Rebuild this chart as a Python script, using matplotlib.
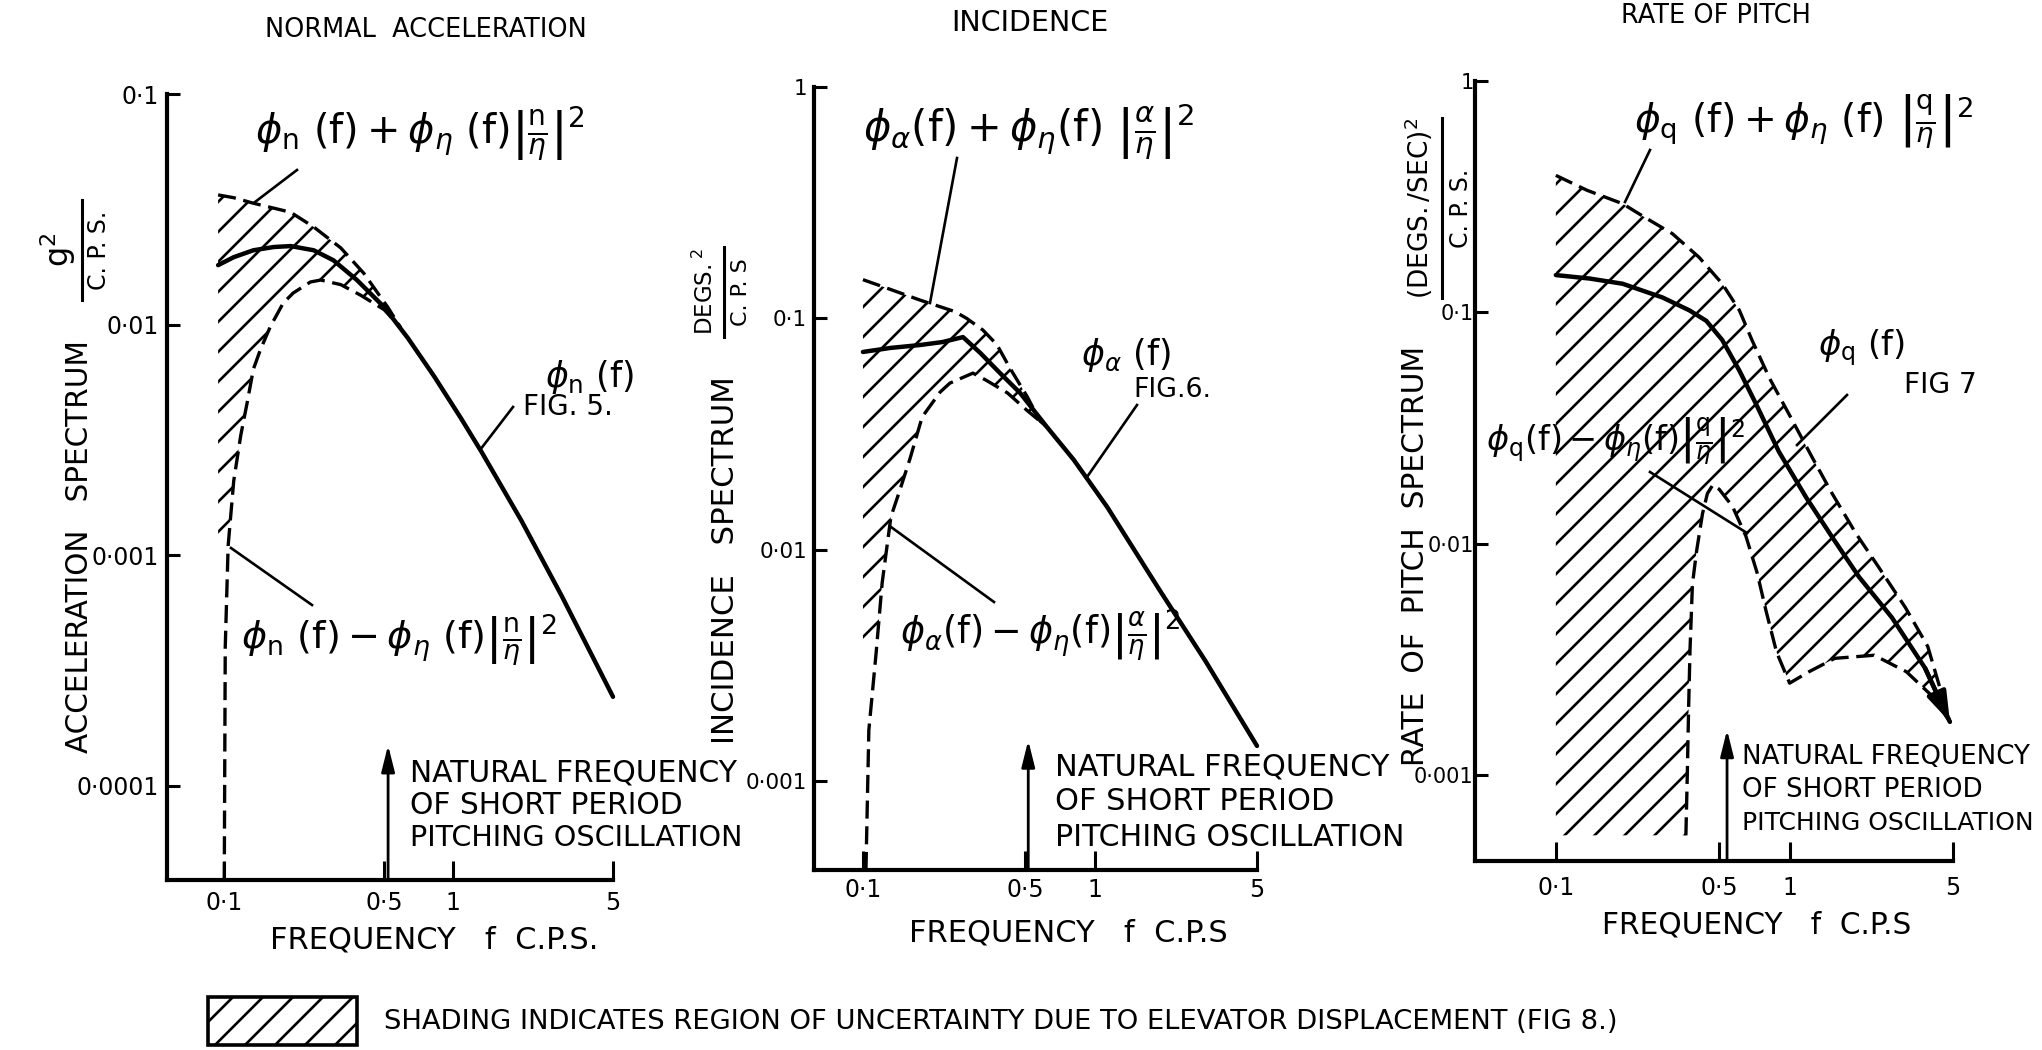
import numpy as np
import matplotlib
matplotlib.use("Agg")
import matplotlib.pyplot as plt
from matplotlib.collections import LineCollection
from matplotlib.patches import Polygon, Rectangle
from matplotlib.transforms import IdentityTransform
from matplotlib.lines import Line2D

plt.rcParams['font.family'] = ['DejaVu Sans']
plt.rcParams['mathtext.fontset'] = 'dejavusans'
plt.rcParams['lines.scale_dashes'] = False

# ---------------- data ----------------
freq_ticks = [0.1, 0.5, 1, 5]
freq_tick_labels = ['0·1', '0·5', '1', '5']

# Normal acceleration  (g^2 / c.p.s.)
acc_yticks = [0.1, 0.01, 0.001, 0.0001]
acc_ytick_labels = ['0·1', '0·01', '0·001', '0·0001']
acc_f = [0.094, 0.11, 0.134, 0.165, 0.195, 0.246, 0.30, 0.38, 0.50, 0.635, 0.826, 1.08, 1.33, 1.99, 2.98, 5.0]
acc_phi = [0.0181, 0.0196, 0.0210, 0.0217, 0.0219, 0.0210, 0.0190, 0.0156, 0.0119, 0.00873,
           0.00597, 0.00394, 0.00281, 0.00141, 0.000667, 0.000243]
acc_up_f = [0.094, 0.11, 0.134, 0.195, 0.246, 0.323, 0.407, 0.518, 0.59]
acc_up = [0.0365, 0.0355, 0.0336, 0.0307, 0.0265, 0.0215, 0.0167, 0.0119, 0.0097]
acc_lo_f = [0.100, 0.101, 0.104, 0.110, 0.118, 0.126, 0.134, 0.144, 0.159, 0.181, 0.200,
            0.238, 0.264, 0.323, 0.395, 0.50, 0.59]
acc_lo = [3.9e-5, 0.0004, 0.0011, 0.0021, 0.0033, 0.0046, 0.0064, 0.0078, 0.0098, 0.0124, 0.0137,
          0.0153, 0.0156, 0.0149, 0.0134, 0.0116, 0.0097]
acc_natural_f = 0.52

# Incidence  (degs^2 / c.p.s.)
inc_yticks = [1, 0.1, 0.01, 0.001]
inc_ytick_labels = ['1', '0·1', '0·01', '0·001']
inc_f = [0.1, 0.131, 0.176, 0.22, 0.27, 0.32, 0.39, 0.476, 0.62, 0.81, 1.13, 1.9, 3.0, 5.0]
inc_phi = [0.0716, 0.0745, 0.0767, 0.079, 0.083, 0.071, 0.058, 0.0476, 0.034, 0.0245, 0.0153,
           0.0067, 0.0033, 0.00142]
inc_up_f = [0.1, 0.122, 0.176, 0.249, 0.28, 0.329, 0.378, 0.43, 0.51, 0.58, 0.62]
inc_up = [0.147, 0.137, 0.12, 0.107, 0.1, 0.089, 0.077, 0.061, 0.046, 0.036, 0.034]
inc_lo_f = [0.103, 0.106, 0.114, 0.121, 0.132, 0.144, 0.16, 0.18, 0.215, 0.237, 0.298, 0.34,
            0.42, 0.51, 0.62]
inc_lo = [4.13e-4, 0.00166, 0.0036, 0.0072, 0.0139, 0.018, 0.025, 0.0375, 0.048, 0.0525, 0.058,
          0.054, 0.0476, 0.040, 0.034]
inc_natural_f = 0.516

# Rate of pitch  ((degs/sec)^2 / c.p.s.)
pit_yticks = [1, 0.1, 0.01, 0.001]
pit_ytick_labels = ['1', '0·1', '0·01', '0·001']
pit_f = [0.1, 0.14, 0.193, 0.286, 0.373, 0.44, 0.515, 0.61, 0.72, 0.9, 1.18, 1.52, 1.98, 2.74, 3.8, 4.85]
pit_phi = [0.145, 0.14, 0.133, 0.116, 0.102, 0.092, 0.076, 0.056, 0.040, 0.025, 0.0158, 0.0107,
           0.0072, 0.0048, 0.0029, 0.0017]
pit_up_f = [0.1, 0.136, 0.193, 0.244, 0.315, 0.41, 0.515, 0.61, 0.69, 0.82, 0.99, 1.25, 1.52,
            1.92, 2.41, 3.13, 3.9, 4.85]
pit_up = [0.391, 0.337, 0.295, 0.255, 0.219, 0.173, 0.133, 0.102, 0.076, 0.052, 0.0366, 0.0236,
          0.0165, 0.0111, 0.0079, 0.0053, 0.0036, 0.0017]
pit_lo_f = [0.36, 0.365, 0.37, 0.375, 0.384, 0.40, 0.424, 0.445, 0.47, 0.50, 0.57, 0.65, 0.726,
            0.794, 0.88, 1.0, 1.21, 1.56, 2.3, 3.16, 4.07, 4.85]
pit_lo = [5.5e-4, 0.001, 0.002, 0.0035, 0.0067, 0.0093, 0.0135, 0.0165, 0.018, 0.0172, 0.0145,
          0.0108, 0.0075, 0.0051, 0.0034, 0.0025, 0.0028, 0.0032, 0.0033, 0.0028, 0.0022, 0.0017]
pit_natural_f = 0.54

# ---------------- layout ----------------
W, H = 2042, 1050
DPI = 100
SOLID_LW = 3.2
DASH_LW = 2.4
DASH = (0, (13, 5.5))
HATCH_SPACING = 30
HATCH_LW = 1.9

fig = plt.figure(figsize=(W / DPI, H / DPI), dpi=DPI)
renderer = fig.canvas.get_renderer()


def fx(x):
    return x / W


def fy(y):
    return 1 - y / H


def make_axes(x0, x1, ytop, ybot, xlim, ylim, yticks, ylabels, xpad, ysize, ypad):
    ax = fig.add_axes([fx(x0), fy(ybot), (x1 - x0) / W, (ybot - ytop) / H])
    ax.set_xscale('log')
    ax.set_yscale('log')
    for s in ['top', 'right']:
        ax.spines[s].set_visible(False)
    for s in ['left', 'bottom']:
        ax.spines[s].set_linewidth(3.0)
    ax.set_xticks(freq_ticks)
    ax.set_xticklabels(freq_tick_labels)
    ax.set_yticks(yticks)
    ax.set_yticklabels(ylabels)
    ax.minorticks_off()
    ax.tick_params(axis='x', direction='in', length=14, width=2.2, labelsize=17, pad=xpad)
    ax.tick_params(axis='y', direction='in', length=9, width=2.2, labelsize=ysize, pad=ypad)
    ax.patch.set_visible(False)
    ax.set_xlim(*xlim)
    ax.set_ylim(*ylim)
    return ax


def hatch_lines():
    segs = [[(c, 0), (c + H, H)] for c in np.arange(-H, W + H, HATCH_SPACING)]
    return LineCollection(segs, colors='black', linewidths=HATCH_LW,
                          transform=IdentityTransform())


def hatch_region(ax, xs, ys):
    poly = Polygon(np.column_stack([xs, ys]), closed=True, facecolor='none',
                   edgecolor='none', transform=ax.transData)
    ax.add_patch(poly)
    lc = hatch_lines()
    lc.set_clip_path(poly)
    ax.add_collection(lc, autolim=False)


def draw_panel(ax, f, phi, uf, up, lf, lo, poly_left_f, poly_floor, natural_f, natural_top):
    xlim, ylim = ax.get_xlim(), ax.get_ylim()
    keep = [i for i in range(len(lf)) if lo[i] >= poly_floor]
    px = list(uf) + [lf[i] for i in reversed(keep)] + [poly_left_f]
    py = list(up) + [lo[i] for i in reversed(keep)] + [poly_floor]
    hatch_region(ax, px, py)
    ax.plot(f, phi, color='black', lw=SOLID_LW, solid_capstyle='round',
            solid_joinstyle='round', clip_on=False)
    ax.plot(uf, up, color='black', lw=DASH_LW, ls=DASH, clip_on=False)
    ax.plot(lf, lo, color='black', lw=DASH_LW, ls=DASH, clip_on=False)
    ax.annotate('', xy=(natural_f, natural_top), xytext=(natural_f, ylim[0]),
                arrowprops=dict(arrowstyle='-|>,head_length=0.8,head_width=0.2',
                                lw=2.0, color='black', mutation_scale=20,
                                shrinkA=0, shrinkB=0))
    ax.set_xlim(*xlim)
    ax.set_ylim(*ylim)


def put(s, x, y, width=None, size=17, rotation=0, ha='center', va='center'):
    t = fig.text(fx(x), fy(y), s, fontsize=size, rotation=rotation, ha=ha, va=va)
    if width is not None:
        bb = t.get_window_extent(renderer)
        cur = bb.height if rotation in (90, 270) else bb.width
        t.set_fontsize(size * width / cur)
    return t


def leader(x0, y0, x1, y1, lw=1.9):
    fig.add_artist(Line2D([fx(x0), fx(x1)], [fy(y0), fy(y1)], transform=fig.transFigure,
                          lw=lw, color='black'))


def unit_fraction(num, den, x_num, x_bar, x_den, y_c, bar_len, num_size, den_size):
    put(num, x_num, y_c, size=num_size, rotation=90)
    put(den, x_den, y_c, size=den_size, rotation=90)
    leader(x_bar, y_c - bar_len / 2, x_bar, y_c + bar_len / 2, lw=2.2)


# ---------------- panels ----------------
ax1 = make_axes(167, 613, 94, 880, (0.0562, 5), (3.9e-5, 0.1), acc_yticks, acc_ytick_labels,
                8, 17, 6)
draw_panel(ax1, acc_f, acc_phi, acc_up_f, acc_up, acc_lo_f, acc_lo, 0.094, 0.0011,
           acc_natural_f, 1.5e-4)

ax2 = make_axes(814, 1257, 87, 870, (0.0615, 5), (4.13e-4, 1), inc_yticks, inc_ytick_labels,
                6, 15.5, 5)
draw_panel(ax2, inc_f, inc_phi, inc_up_f, inc_up, inc_lo_f, inc_lo, 0.1, 0.0036,
           inc_natural_f, 0.0015)

ax3 = make_axes(1475, 1953, 81, 861, (0.0451, 5), (4.26e-4, 1), pit_yticks, pit_ytick_labels,
                11, 15, 1)
draw_panel(ax3, pit_f, pit_phi, pit_up_f, pit_up, pit_lo_f, pit_lo, 0.1, 5.5e-4,
           pit_natural_f, 0.00157)
ax3.annotate('', xy=(pit_f[-1], pit_phi[-1]), xytext=(pit_f[-2], pit_phi[-2]),
             arrowprops=dict(arrowstyle='-|>,head_length=0.9,head_width=0.3', lw=SOLID_LW,
                             color='black', mutation_scale=20, shrinkA=0, shrinkB=0))

# ---------------- text ----------------
t = put('NORMAL  ACCELERATION', 426, 30, width=323)
title_size = t.get_fontsize()
put('INCIDENCE', 1030, 23, size=title_size * 1.12)
put('RATE OF PITCH', 1716, 16, size=title_size)

put('ACCELERATION   SPECTRUM', 80, 547, width=415, rotation=90)
put('INCIDENCE   SPECTRUM', 725, 560, width=370, rotation=90)
put('RATE  OF  PITCH  SPECTRUM', 1415, 556, width=422, rotation=90)

unit_fraction(r'$\mathrm{g}^2$', 'C. P. S.', 58, 82, 99, 250, 100, 23, 17)
unit_fraction(r'$\mathrm{DEGS.}^2$', 'C. P. S', 705, 724, 741, 292, 90, 16.5, 16)
unit_fraction(r'$(\mathrm{DEGS./SEC})^2$', 'C. P. S.', 1419, 1442, 1461, 208, 180, 19, 17)

t = put('FREQUENCY   f  C.P.S.', 434, 940, width=329)
xl_size = t.get_fontsize()
put('FREQUENCY   f  C.P.S', 1068, 933, size=xl_size)
put('FREQUENCY   f  C.P.S', 1757, 925, size=xl_size * 0.97)

# curve labels
put(r'$\phi_\mathrm{n}\ (\mathrm{f}) + \phi_\eta\ (\mathrm{f})\left|\frac{\mathrm{n}}{\eta}\right|^2$',
    420, 134, width=331)
put(r'$\phi_\mathrm{n}\ (\mathrm{f})$', 589, 377, width=90)
put('FIG. 5.', 568, 407, width=90)
put(r'$\phi_\mathrm{n}\ (\mathrm{f}) - \phi_\eta\ (\mathrm{f})\left|\frac{\mathrm{n}}{\eta}\right|^2$',
    399, 640, width=316)
leader(297, 170, 255, 202)
leader(513, 407, 480, 450)
leader(231, 548, 312, 605)

put(r'$\phi_\alpha(\mathrm{f}) + \phi_\eta(\mathrm{f})\ \left|\frac{\alpha}{\eta}\right|^2$',
    1029, 132, width=332)
put(r'$\phi_\alpha\ (\mathrm{f})$', 1126, 355, width=91)
put('FIG.6.', 1172, 390, width=78)
put(r'$\phi_\alpha(\mathrm{f}) - \phi_\eta(\mathrm{f})\left|\frac{\alpha}{\eta}\right|^2$',
    1040, 636, width=281)
leader(957, 158, 930, 303)
leader(1137, 405, 1087, 477)
leader(891, 527, 994, 602)

put(r'$\phi_\mathrm{q}\ (\mathrm{f}) + \phi_\eta\ (\mathrm{f})\ \left|\frac{\mathrm{q}}{\eta}\right|^2$',
    1804, 122, width=341)
put(r'$\phi_\mathrm{q}\ (\mathrm{f})$', 1862, 348, width=88)
put('FIG 7', 1940, 385, width=73)
put(r'$\phi_\mathrm{q}(\mathrm{f}) - \phi_\eta(\mathrm{f})\left|\frac{\mathrm{q}}{\eta}\right|^2$',
    1615, 442, width=260)
leader(1650, 150, 1625, 202)
leader(1847, 395, 1797, 445)
leader(1650, 472, 1747, 533)

# natural frequency notes: (left x, line y's, width of line 1, width of line 3)
nf_lines = ['NATURAL FREQUENCY', 'OF SHORT PERIOD', 'PITCHING OSCILLATION']
for (x0, ys, w1, w3) in [(410, [773, 805, 838], 328, 335),
                         (1055, [767, 802, 837], 335, 352),
                         (1742, [757, 790, 823], 289, 293)]:
    t1 = put(nf_lines[0], x0, ys[0], width=w1, ha='left')
    put(nf_lines[1], x0, ys[1], size=t1.get_fontsize(), ha='left')
    put(nf_lines[2], x0, ys[2], width=w3, ha='left')

# legend
rect = Rectangle((fx(208), fy(1045)), (357 - 208) / W, (1045 - 997) / H,
                 transform=fig.transFigure, fill=False, lw=2.6, edgecolor='black')
fig.add_artist(rect)
lc = hatch_lines()
lc.set_clip_path(rect)
fig.add_artist(lc)
put('SHADING INDICATES REGION OF UNCERTAINTY DUE TO ELEVATOR DISPLACEMENT (FIG 8.)',
    384, 1022, width=1244, ha='left')

fig.savefig('out.png', dpi=DPI)
